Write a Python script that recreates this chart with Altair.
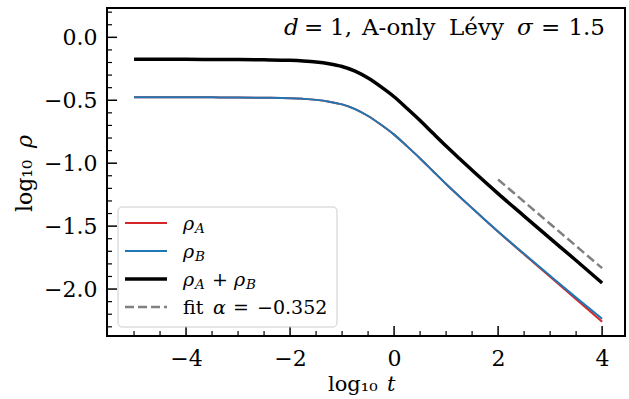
import altair as alt
import pandas as pd

# ---------------- data ----------------
log_t = [-5.0, -4.5, -4.0, -3.5, -3.0, -2.5, -2.0, -1.75, -1.5, -1.25, -1.0, -0.75,
         -0.5, -0.25, 0.0, 0.25, 0.5, 0.75, 1.0, 1.25, 1.5, 1.75, 2.0, 2.5, 3.0, 3.5, 4.0]
log_rho_a = [-0.476, -0.476, -0.476, -0.477, -0.478, -0.480, -0.484, -0.489, -0.497, -0.511,
             -0.533, -0.570, -0.625, -0.695, -0.773, -0.866, -0.962, -1.064, -1.165, -1.262,
             -1.357, -1.451, -1.544, -1.724, -1.903, -2.080, -2.260]
log_rho_b = [-0.476, -0.476, -0.476, -0.477, -0.478, -0.480, -0.484, -0.489, -0.497, -0.511,
             -0.533, -0.570, -0.625, -0.695, -0.773, -0.866, -0.962, -1.064, -1.165, -1.262,
             -1.357, -1.451, -1.543, -1.720, -1.895, -2.068, -2.236]
log_rho_sum = [-0.175, -0.175, -0.175, -0.176, -0.177, -0.179, -0.183, -0.188, -0.196, -0.210,
               -0.232, -0.269, -0.324, -0.394, -0.472, -0.565, -0.661, -0.763, -0.864, -0.961,
               -1.056, -1.150, -1.242, -1.420, -1.597, -1.773, -1.952]
fit_log_t = [2.0, 4.0]
fit_log_rho = [-1.130, -1.834]

x_major = [-4, -2, 0, 2, 4]
x_minor = [-5.0, -4.5, -3.5, -3.0, -2.5, -1.5, -1.0, -0.5, 0.5, 1.0, 1.5, 2.5, 3.0, 3.5]
y_major = [0.0, -0.5, -1.0, -1.5, -2.0]
y_minor = [0.2, 0.1, -0.1, -0.2, -0.3, -0.4, -0.6, -0.7, -0.8, -0.9, -1.1, -1.2, -1.3, -1.4,
           -1.6, -1.7, -1.8, -1.9, -2.1, -2.2, -2.3]

# ---------------- layout ----------------
W, H = 518, 328
FONT = "DejaVu Serif"
FS = 22
AFS = 23
LFS = 19
SFS = 13.5

xs = alt.Scale(domain=[-5.52, 4.44], nice=False, zero=False)
ys = alt.Scale(domain=[-2.373, 0.233], nice=False, zero=False)

x_axis = alt.Axis(title="", values=x_major, format="d", ticks=False, domain=False, grid=False,
                  labelFont=FONT, labelFontSize=FS, labelColor="black", labelPadding=12,
                  labelFlush=False)
y_axis = alt.Axis(title="", values=y_major, format=".1f", ticks=False, domain=False, grid=False,
                  labelFont=FONT, labelFontSize=FS, labelColor="black", labelPadding=10,
                  labelFlush=False)
X = alt.X("t:Q", scale=xs, axis=x_axis)
Y = alt.Y("y:Q", scale=ys, axis=y_axis)

dummy = pd.DataFrame({"k": [0]})


def series(tvals, yvals, color, width, dash=None):
    d = pd.DataFrame({"t": tvals, "y": yvals})
    kw = dict(color=color, strokeWidth=width, interpolate="monotone")
    if dash:
        kw["strokeDash"] = dash
    return alt.Chart(d).mark_line(**kw).encode(x=X, y=Y)


def text(s, x, y, size=FS, italic=False, angle=0, align="left"):
    kw = dict(text=s, font=FONT, fontSize=size, align=align, baseline="alphabetic", color="black")
    if italic:
        kw["fontStyle"] = "italic"
    if angle:
        kw["angle"] = angle
    return alt.Chart(dummy).mark_text(**kw).encode(x=alt.value(x), y=alt.value(y))


layers = []
# data lines
layers.append(series(log_t, log_rho_a, "#d62728", 2))
layers.append(series(log_t, log_rho_b, "#1f77b4", 2))
layers.append(series(log_t, log_rho_sum, "black", 3.5))
layers.append(series(fit_log_t, fit_log_rho, "#808080", 2.5, [9, 4]))

# inward ticks
layers.append(alt.Chart(pd.DataFrame({"t": x_major})).mark_rule(color="black", strokeWidth=1.5)
              .encode(x=X, y=alt.value(H), y2=alt.value(H - 10)))
layers.append(alt.Chart(pd.DataFrame({"t": x_minor})).mark_rule(color="black", strokeWidth=1.2)
              .encode(x=X, y=alt.value(H), y2=alt.value(H - 5)))
layers.append(alt.Chart(pd.DataFrame({"y": y_major})).mark_rule(color="black", strokeWidth=1.5)
              .encode(y=Y, x=alt.value(0), x2=alt.value(10)))
layers.append(alt.Chart(pd.DataFrame({"y": y_minor})).mark_rule(color="black", strokeWidth=1.2)
              .encode(y=Y, x=alt.value(0), x2=alt.value(5)))

# annotation  "d = 1, A-only Lévy σ = 1.5"
ab = 27
layers += [
    text("d", 177, ab, AFS, italic=True),
    text("=", 197, ab, AFS),
    text("1,", 223, ab, AFS),
    text("A-only", 255, ab, AFS),
    text("Lévy", 342, ab, AFS),
    text("σ", 410, ab, AFS, italic=True),
    text("=", 434, ab, AFS),
    text("1.5", 498, ab, AFS, align="right"),
]

# axis titles
layers += [
    text("log₁₀", 221, 383, 21),
    text("t", 280, 383, 21, italic=True),
    text("log₁₀", -75, 204, angle=270),
    text("ρ", -75, 140, italic=True, angle=270),
]

# legend
layers.append(alt.Chart(dummy).mark_rect(cornerRadius=4, fill="white", fillOpacity=0.8,
                                         stroke="#cccccc", strokeWidth=1)
              .encode(x=alt.value(11), x2=alt.value(230), y=alt.value(199), y2=alt.value(319)))
rows = [215, 243, 271, 299]
samples = [("#d62728", 2, None), ("#1f77b4", 2, None), ("black", 3.5, None), ("#808080", 2.5, [9, 4])]
for ry, (c, w, dsh) in zip(rows, samples):
    kw = dict(color=c, strokeWidth=w)
    if dsh:
        kw["strokeDash"] = dsh
    layers.append(alt.Chart(dummy).mark_rule(**kw)
                  .encode(x=alt.value(18), x2=alt.value(60), y=alt.value(ry)))

tx = 76
b1, b2, b3, b4 = [r + 7 for r in rows]
layers += [
    text("ρ", tx, b1, LFS, italic=True), text("A", tx + 12, b1 + 3, SFS, italic=True),
    text("ρ", tx, b2, LFS, italic=True), text("B", tx + 12, b2 + 3, SFS, italic=True),
    text("ρ", tx, b3, LFS, italic=True), text("A", tx + 12, b3 + 3, SFS, italic=True),
    text("+", tx + 29, b3, LFS),
    text("ρ", tx + 51, b3, LFS, italic=True), text("B", tx + 63, b3 + 3, SFS, italic=True),
    text("fit", tx, b4, LFS), text("α", tx + 30, b4, LFS, italic=True),
    text("=", tx + 50, b4, LFS), text("−0.352", tx + 74, b4, LFS),
]

chart = (alt.layer(*layers)
         .properties(width=W, height=H,
                     autosize=alt.AutoSizeParams(type="none"),
                     padding={"left": 107, "top": 8, "right": 4, "bottom": 63})
         .configure_view(stroke="black", strokeWidth=2))

chart.save("out.html", embed_options={"renderer": "svg", "actions": False})
